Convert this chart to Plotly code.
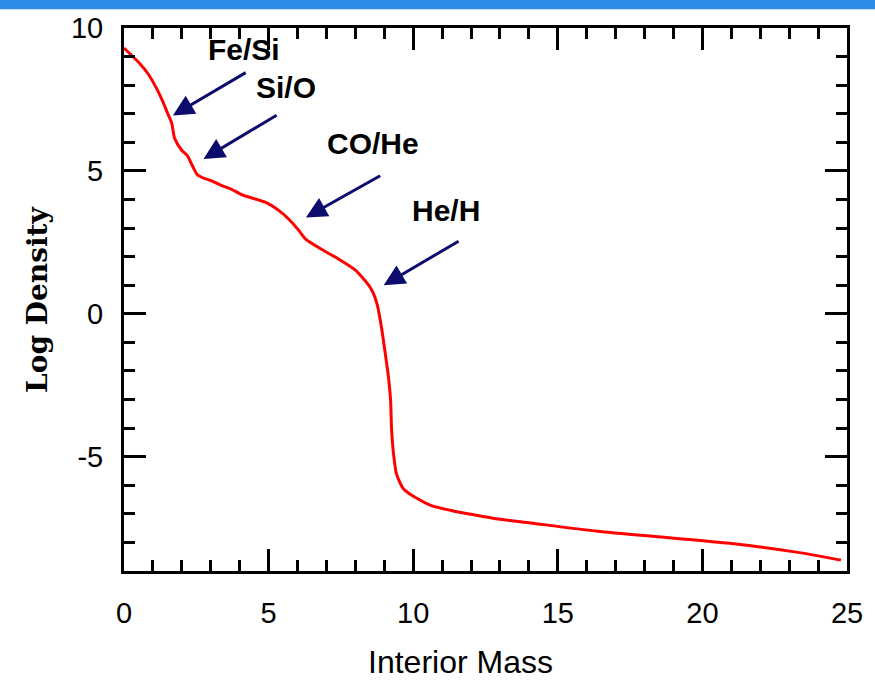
import plotly.graph_objects as go

# Density profile of a massive star's interior
interior_mass = [0.0, 0.55, 0.83, 1.13, 1.34, 1.51, 1.65, 1.75, 1.99, 2.20, 2.37, 2.54,
                 2.72, 3.03, 3.40, 3.75, 4.09, 4.92, 5.36, 5.71, 6.05, 6.29, 6.84, 7.43,
                 8.01, 8.46, 8.62, 8.76, 8.91, 9.04, 9.15, 9.22, 9.25, 9.32, 9.42, 9.66,
                 10.08, 10.63, 11.31, 12.14, 12.93, 14.06, 16.37, 18.67, 20.94, 23.25, 24.79]
log_density = [9.30, 8.75, 8.40, 7.88, 7.43, 7.01, 6.67, 6.14, 5.73, 5.52, 5.17, 4.86,
               4.76, 4.65, 4.48, 4.34, 4.16, 3.89, 3.61, 3.30, 2.91, 2.60, 2.25, 1.91,
               1.52, 1.00, 0.72, 0.30, -0.52, -1.43, -2.26, -3.06, -4.00, -4.90, -5.60, -6.12,
               -6.43, -6.71, -6.88, -7.04, -7.18, -7.32, -7.61, -7.82, -8.03, -8.34, -8.62]

# Composition boundaries: label, label position, arrow tail, arrow head
boundary_labels = ["Fe/Si", "Si/O", "CO/He", "He/H"]
label_x = [4.16, 5.61, 8.60, 11.14]
label_y = [9.24, 7.92, 5.97, 3.61]
tail_x = [4.26, 5.33, 8.91, 11.62]
tail_y = [8.47, 6.98, 4.86, 2.57]
head_x = [1.69, 2.75, 6.29, 8.98]
head_y = [6.94, 5.42, 3.37, 1.00]

x_ticks = [0, 5, 10, 15, 20, 25]
y_ticks = [-5, 0, 5, 10]
y_tick_text = ["-5", "0", "5", "10"]

fig = go.Figure()
fig.add_trace(go.Scatter(x=interior_mass, y=log_density, mode="lines",
                         line=dict(color="#ff0000", width=3, shape="spline",
                                   smoothing=0.6),
                         showlegend=False))

annotations = []
for lab, lx, ly, tx, ty, hx, hy in zip(boundary_labels, label_x, label_y,
                                       tail_x, tail_y, head_x, head_y):
    annotations.append(dict(x=hx, y=hy, ax=tx, ay=ty, xref="x", yref="y",
                            axref="x", ayref="y", text="", showarrow=True,
                            arrowhead=2, arrowsize=1.4, arrowwidth=3,
                            arrowcolor="#0c0c6e"))
    annotations.append(dict(x=lx, y=ly, xref="x", yref="y", text="<b>%s</b>" % lab,
                            showarrow=False, xanchor="center", yanchor="middle",
                            font=dict(family="Liberation Sans, Arial", size=30,
                                      color="black")))

annotations.append(dict(x=0.465, y=-0.168, xref="paper", yref="paper",
                        text="Interior Mass", showarrow=False,
                        xanchor="center", yanchor="middle",
                        font=dict(family="Liberation Sans, Arial", size=32, color="black")))
annotations.append(dict(x=-0.1197, y=0.5, xref="paper", yref="paper",
                        text="<b>Log Density</b>", showarrow=False, textangle=-90,
                        xanchor="center", yanchor="middle",
                        font=dict(family="DejaVu Serif", size=28, color="black")))

axis_common = dict(showgrid=False, zeroline=False, showline=True, linecolor="black",
                   linewidth=3, mirror="allticks", ticks="inside", ticklen=22,
                   tickwidth=2.5, tickcolor="black",
                   tickfont=dict(family="Liberation Sans, Arial", size=29, color="black"),
                   minor=dict(ticks="inside", ticklen=11, tickwidth=2.5,
                              tickcolor="black", dtick=1, showgrid=False))

fig.update_xaxes(range=[0, 25], tickvals=x_ticks, ticklabelstandoff=14, **axis_common)
fig.update_yaxes(range=[-9, 10], tickvals=y_ticks, ticktext=y_tick_text,
                 ticklabelstandoff=12, **axis_common)

fig.update_layout(
    width=875, height=685,
    margin=dict(l=124, r=24, t=24, b=114),
    paper_bgcolor="white", plot_bgcolor="white",
    annotations=annotations,
    shapes=[dict(type="rect", xref="paper", yref="paper",
                 x0=-0.18, x1=1.05, y0=1.0347, y1=1.06,
                 fillcolor="#2e8de8", line=dict(width=0), layer="above")],
)

fig.write_html("out.html")
